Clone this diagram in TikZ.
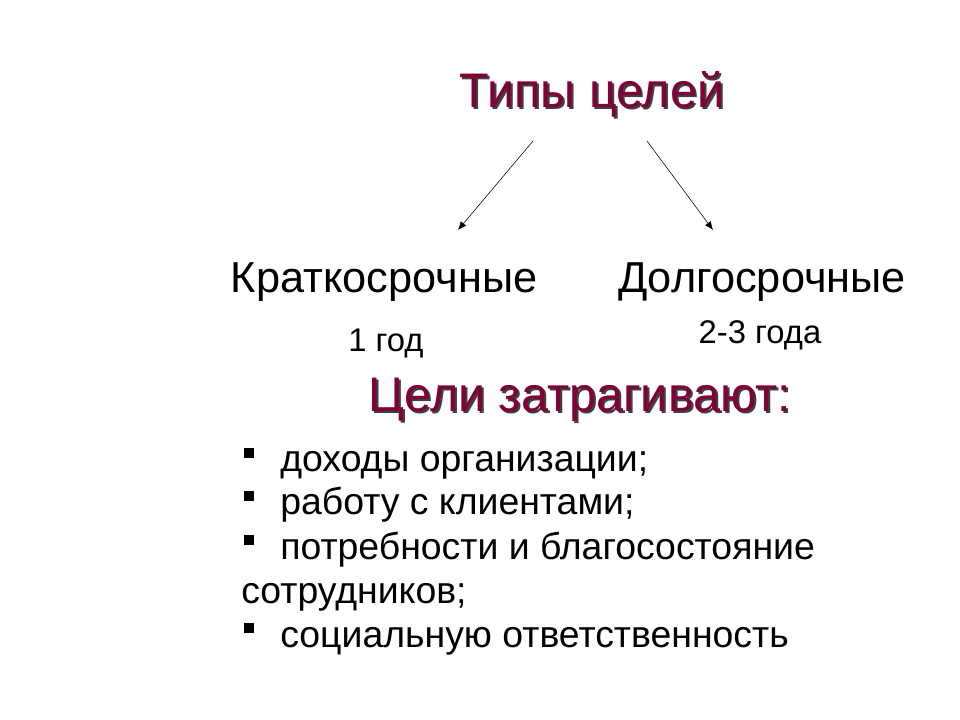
\documentclass[tikz,border=0pt]{standalone}
\usepackage{fontspec}
\setmainfont{Liberation Sans}
\usetikzlibrary{arrows.meta}
\definecolor{maroon}{RGB}{128,0,56}
\begin{document}
\begin{tikzpicture}[x=0.025cm, y=-0.025cm]
\tikzstyle{heading}=[font=\fontsize{34.5}{40}\selectfont, text=maroon, inner sep=0pt]
\tikzstyle{headshadow}=[font=\fontsize{34.5}{40}\selectfont, text=black!75, inner sep=0pt]
\tikzstyle{term}=[font=\fontsize{30.8}{36}\selectfont, inner sep=0pt]
\tikzstyle{span}=[font=\fontsize{23.3}{28}\selectfont, inner sep=0pt]
\tikzstyle{item}=[font=\fontsize{26.6}{32}\selectfont, inner sep=0pt, anchor=base west]
\tikzstyle{bullet}=[fill=black, minimum size=7.8pt, inner sep=0pt]
\tikzstyle{link}=[-{Latex[length=6pt,width=5pt]}, thin]

\fill[white] (0,0) rectangle (960,720);

% headings, with a dark shadow behind
\node[headshadow] (typesh) at (594,96) {Типы целей};
\node[heading] (types) at (592,94) {Типы целей};

\coordinate (lstart) at (533,141);
\coordinate (lend) at (458,230);
\coordinate (rstart) at (647,141);
\coordinate (rend) at (713,230);
\draw[link] (lstart) -- (lend);
\draw[link] (rstart) -- (rend);

\node[term] (short) at (384,282) {Краткосрочные};
\node[term] (long) at (762,282) {Долгосрочные};
\node[span] (shortspan) at (386,343) {1 год};
\node[span] (longspan) at (760,335) {2-3 года};

\node[headshadow] (touchsh) at (582,402) {Цели затрагивают:};
\node[heading] (touch) at (580,400) {Цели затрагивают:};

% list
\node[item] (i1) at (280,472) {доходы организации;};
\node[item] (i2) at (280,515) {работу с клиентами;};
\node[item] (i3) at (280,559) {потребности и благосостояние};
\node[item] (i3b) at (241,603) {сотрудников;};
\node[item] (i4) at (280,647) {социальную ответственность};
\foreach \i/\y in {1/453, 2/496, 3/540, 4/628} {
\node[bullet] (b\i) at (249,\y) {};
}

\end{tikzpicture}
\end{document}
